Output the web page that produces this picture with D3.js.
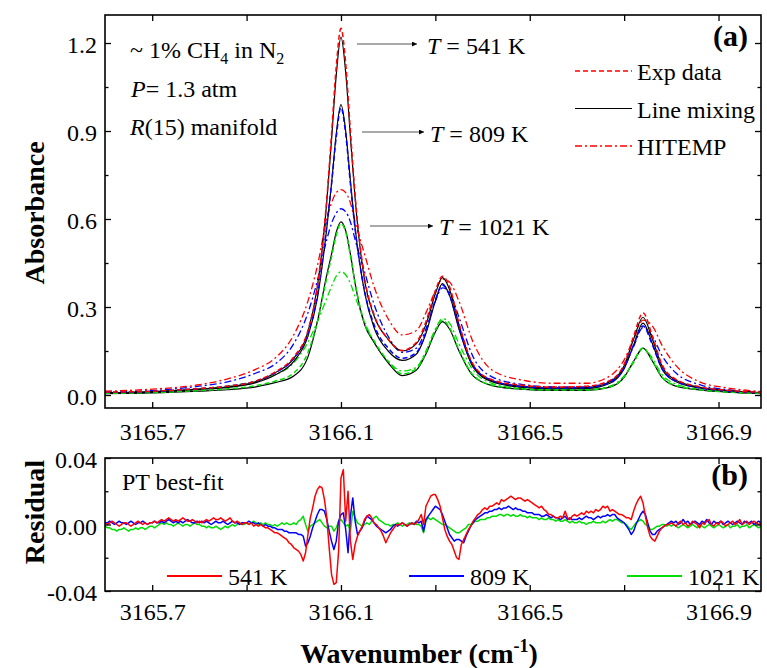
<!DOCTYPE html>
<html>
<head>
<meta charset="utf-8">
<script src="https://cdn.jsdelivr.net/npm/d3@7"></script>
<style>
  body { margin: 0; background: #fff; }
  text { font-family: "Liberation Serif", "Times New Roman", serif; fill: #000; }
</style>
</head>
<body>
<svg id="chart" width="767" height="668"></svg>
<script>
// ---- Absorbance spectra, R(15) manifold of CH4 (wavenumber in cm-1) ----
const wavenumber = [3165.60, 3165.70, 3165.80, 3165.86, 3165.92, 3165.96, 3166.00, 3166.03, 3166.05, 3166.07,
  3166.08, 3166.09, 3166.10, 3166.11, 3166.12, 3166.13, 3166.15, 3166.17, 3166.20, 3166.23,
  3166.26, 3166.28, 3166.30, 3166.315, 3166.33, 3166.35, 3166.38, 3166.42, 3166.48, 3166.55,
  3166.62, 3166.67, 3166.70, 3166.72, 3166.74, 3166.76, 3166.78, 3166.81, 3166.86, 3166.92, 3166.99];

const exp541 = [0.010, 0.013, 0.022, 0.030, 0.048, 0.078, 0.13, 0.22, 0.37, 0.67, 0.89, 1.12, 1.25, 1.13, 0.90, 0.68, 0.40, 0.275, 0.19, 0.152,
  0.18, 0.25, 0.355, 0.405, 0.37, 0.245, 0.105, 0.052, 0.034, 0.027, 0.03, 0.05, 0.105, 0.2, 0.28, 0.2, 0.105, 0.053, 0.028, 0.016, 0.009];
const lm541 = [0.008, 0.012, 0.020, 0.028, 0.045, 0.075, 0.125, 0.215, 0.37, 0.66, 0.87, 1.09, 1.22, 1.10, 0.88, 0.67, 0.39, 0.27, 0.19, 0.15,
  0.175, 0.24, 0.345, 0.40, 0.36, 0.24, 0.10, 0.048, 0.030, 0.024, 0.025, 0.045, 0.10, 0.19, 0.265, 0.19, 0.10, 0.05, 0.026, 0.015, 0.008];
const hit541 = [0.013, 0.02, 0.035, 0.055, 0.088, 0.125, 0.205, 0.32, 0.44, 0.60, 0.655, 0.69, 0.70, 0.69, 0.655, 0.59, 0.48, 0.37, 0.26, 0.205,
  0.22, 0.28, 0.355, 0.395, 0.385, 0.32, 0.18, 0.085, 0.052, 0.04, 0.04, 0.065, 0.12, 0.19, 0.255, 0.235, 0.17, 0.10, 0.045, 0.024, 0.012];

const exp809 = [0.009, 0.012, 0.022, 0.03, 0.048, 0.075, 0.125, 0.21, 0.34, 0.58, 0.72, 0.88, 0.98, 0.89, 0.72, 0.565, 0.355, 0.24, 0.16, 0.125,
  0.145, 0.215, 0.325, 0.375, 0.34, 0.23, 0.10, 0.05, 0.03, 0.024, 0.025, 0.043, 0.092, 0.17, 0.235, 0.17, 0.09, 0.047, 0.025, 0.014, 0.008];
const lm809 = [0.007, 0.010, 0.019, 0.026, 0.042, 0.068, 0.115, 0.20, 0.33, 0.57, 0.72, 0.89, 0.99, 0.90, 0.73, 0.57, 0.35, 0.23, 0.15, 0.118,
  0.14, 0.21, 0.32, 0.38, 0.34, 0.225, 0.095, 0.045, 0.027, 0.021, 0.022, 0.04, 0.09, 0.17, 0.245, 0.175, 0.09, 0.045, 0.024, 0.013, 0.007];
const hit809 = [0.010, 0.015, 0.03, 0.045, 0.075, 0.105, 0.175, 0.28, 0.39, 0.53, 0.585, 0.62, 0.635, 0.625, 0.59, 0.53, 0.42, 0.31, 0.20, 0.145,
  0.16, 0.225, 0.32, 0.365, 0.35, 0.265, 0.13, 0.062, 0.037, 0.028, 0.028, 0.048, 0.095, 0.165, 0.23, 0.2, 0.135, 0.075, 0.035, 0.018, 0.009];

const exp1021 = [0.006, 0.008, 0.015, 0.021, 0.032, 0.047, 0.075, 0.145, 0.25, 0.40, 0.47, 0.545, 0.585, 0.555, 0.475, 0.38, 0.245, 0.185, 0.115, 0.072,
  0.09, 0.145, 0.22, 0.255, 0.23, 0.155, 0.068, 0.034, 0.021, 0.017, 0.017, 0.028, 0.062, 0.115, 0.16, 0.117, 0.062, 0.032, 0.018, 0.01, 0.006];
const lm1021 = [0.005, 0.007, 0.013, 0.018, 0.028, 0.042, 0.065, 0.13, 0.25, 0.41, 0.48, 0.555, 0.59, 0.56, 0.48, 0.38, 0.24, 0.18, 0.11, 0.066,
  0.085, 0.14, 0.215, 0.25, 0.225, 0.15, 0.065, 0.032, 0.02, 0.016, 0.016, 0.027, 0.06, 0.115, 0.16, 0.115, 0.06, 0.03, 0.017, 0.01, 0.005];
const hit1021 = [0.006, 0.009, 0.02, 0.03, 0.047, 0.068, 0.11, 0.18, 0.25, 0.33, 0.37, 0.405, 0.42, 0.41, 0.38, 0.335, 0.25, 0.18, 0.115, 0.082,
  0.095, 0.15, 0.225, 0.26, 0.245, 0.175, 0.085, 0.04, 0.023, 0.018, 0.018, 0.03, 0.065, 0.11, 0.158, 0.125, 0.07, 0.037, 0.019, 0.01, 0.006];

// ---- Fit residuals, uniformly sampled from resStart with resStep, values in units of 1e-3 ----
const resStart = 3165.600, resStep = 0.005, resUnit = 0.001;
const res541 = [
  1,0,1,2,1,0,-1,0,1,1, 0,-1,0,1,2,1,0,1,0,1, 1,2,1,2,3,2,3,4,3,2, 3,2,3,4,3,2,2,3,2,1,
  2,1,2,3,2,3,4,3,3,4, 3,2,3,4,2,1,2,1,0,1, 1,0,1,-1,0,-1,0,-1,-2,-2, -3,-4,-5,-5,-6,-7,-8,-9,-11,-12,
  -14,-15,-16,-18,-22,-17,-6,4,10,17, 21,23,22,15,4,-14,-30,-36,-35,-16, 28,33,2,20,-10,-21,-12,-7,-4,-1,
  3,5,6,4,1,0,-2,-4,-7,-11, -8,-5,-3,-1,0,0,1,0,-1,0, 1,0,1,3,6,0,11,14,17,18,
  18,15,11,4,-3,-7,-10,-12,-16,-20, -21,-12,-9,-6,-3,-1,2,4,6,7, 9,10,9,11,11,12,13,12,15,14,
  15,16,17,16,15,16,16,15,14,15, 14,13,12,11,10,11,9,8,6,6, 5,4,4,5,4,8,4,3,5,6,
  5,6,7,6,8,7,8,7,9,8, 9,11,10,11,8,9,8,7,6,6, 5,4,4,3,8,12,15,17,13,5,
  -2,-7,-9,-10,-7,-4,-2,-1,0,0, 1,0,-1,1,2,0,1,-1,0,2, 1,0,-2,1,0,2,3,0,-1,1,
  0,2,1,-1,0,1,2,0,1,3, 0,1,2,0,1,2,1,0,1];
const res809 = [
  1,1,2,1,0,1,2,1,1,0, 1,2,1,0,1,1,2,1,0,1, 1,2,1,1,2,1,2,3,2,1, 2,1,2,1,2,3,2,1,1,2,
  1,2,1,2,1,0,1,2,1,1, 2,1,0,1,2,1,1,0,1,1, 1,2,1,1,0,1,0,-1,0,-1, -1,-2,-2,-3,-3,-3,-4,-4,-5,-5,
  -5,-5,-6,-6,-7,-13,-11,-7,-2,2, 6,9,9,8,3,-4,-10,-15,-10,2, 6,7,-3,-17,5,16,2,-6,-4,-2,
  2,5,4,3,1,-1,-2,-3,-4,-5, -4,-3,-1,0,-1,0,1,0,-1,0, 1,0,2,1,2,-4,3,5,7,9,
  11,10,9,6,2,-2,-6,-8,-10,-9, -9,-10,-11,-7,-4,-1,1,3,4,5, 6,7,7,8,8,9,9,10,9,10,
  10,11,10,9,10,9,9,8,8,7, 7,7,6,6,6,5,5,6,5,4, 5,4,4,3,4,5,3,4,3,3,
  3,4,3,4,5,4,4,3,4,5, 4,5,5,6,5,6,6,4,3,2, 1,-1,-3,-6,-4,0,3,6,8,6,
  1,-4,-6,-6,-4,-3,-2,-1,0,1, 2,1,2,0,1,3,1,2,0,1, 2,1,0,2,1,3,1,0,2,1,
  1,2,0,1,2,1,0,1,2,1, 0,2,1,1,2,0,1,2,1];
const res1021 = [
  -1,-2,-2,-3,-3,-4,-3,-3,-2,-3, -4,-3,-3,-2,-3,-2,-2,-3,-2,-1, -1,-2,-1,0,1,0,1,0,0,-1, 0,1,0,-1,0,0,-1,0,1,0,
  0,-1,-1,-2,-1,-2,-2,-1,-2,-3, -2,-1,-2,-1,0,-1,0,1,0,0, 1,0,1,2,1,0,1,0,1,0, 0,-1,0,-1,0,1,0,1,0,0,
  1,0,2,3,5,0,-4,-1,0,1, 2,3,1,-1,-2,-1,-1,-4,-2,2, 3,1,-1,0,-4,8,4,1,0,-1,
  0,1,0,2,4,5,3,2,1,0, 0,-1,0,0,1,0,-1,0,0,1, 0,1,0,0,-1,-5,2,4,3,4,
  3,2,1,0,0,-1,-2,-3,-4,-5, -5,-4,-3,-2,0,0,1,2,2,3, 3,3,4,4,5,5,5,6,6,5,
  6,6,5,6,5,5,6,5,5,4, 5,4,4,4,3,4,3,3,4,3, 3,2,3,2,2,3,2,1,2,1,
  1,2,1,1,0,1,1,2,1,1, 1,2,1,2,3,2,3,3,2,1, 1,0,-2,-3,-1,1,2,3,2,0,
  -1,-3,-3,-2,-1,-1,0,0,-1,0, -1,0,-1,-2,-1,0,-1,-2,-1,0, -1,-2,0,-1,-2,-1,0,-1,-2,-1,
  0,-1,-2,-1,0,-2,-1,-1,0,-2, -1,-1,0,-2,-1,0,-1,-2,-1];

// ---- Axis ticks and labels ----
const xTicks = [3165.7, 3165.9, 3166.1, 3166.3, 3166.5, 3166.7, 3166.9];
const xTickLabels = ["3165.7", "3166.1", "3166.5", "3166.9"];
const absTicks = [0, 0.3, 0.6, 0.9, 1.2];
const absMinorTicks = [0.15, 0.45, 0.75, 1.05];
const resTicks = [-0.04, 0, 0.04];
const resMinorTicks = [-0.02, 0.02];

const temperatures = ["541 K", "809 K", "1021 K"];
const tempColors = ["#ff0000", "#0000ff", "#00dd00"];

// ---- Layout ----
const svg = d3.select("#chart");
const L = 105, R = 761;
const topP = { top: 15, bottom: 408 };
const botP = { top: 458, bottom: 591 };

const x = d3.scaleLinear().domain([3165.60, 3166.99]).range([L, R]);
const yA = d3.scaleLinear().domain([-0.0443, 1.2955]).range([topP.bottom, topP.top]);
const yR = d3.scaleLinear().domain([-0.04, 0.04]).range([botP.bottom, botP.top]);

const defs = svg.append("defs");
defs.append("clipPath").attr("id", "clipTop").append("rect")
  .attr("x", L).attr("y", topP.top).attr("width", R - L).attr("height", topP.bottom - topP.top);
defs.append("clipPath").attr("id", "clipBot").append("rect")
  .attr("x", L).attr("y", botP.top).attr("width", R - L).attr("height", botP.bottom - botP.top);
defs.append("marker").attr("id", "arrowHead")
  .attr("viewBox", "0 0 10 10").attr("refX", 10).attr("refY", 5)
  .attr("markerWidth", 9).attr("markerHeight", 5).attr("markerUnits", "userSpaceOnUse")
  .attr("orient", "auto")
  .append("path").attr("d", "M0,0 L10,5 L0,10 Z").attr("fill", "#000");

const isLabeled = d => xTickLabels.some(s => Math.abs(+s - d) < 1e-6);

function styleAxis(g) {
  g.select(".domain").remove();
  g.selectAll(".tick line").attr("stroke", "#000").attr("stroke-width", 1.3);
  g.selectAll(".tick text").style("font-size", "24px").attr("fill", "#000");
}

function drawAxes(panel, yScale, major, minor, fmt, xPad) {
  // x: bottom (labelled) and top
  svg.append("g").attr("transform", `translate(0,${panel.bottom})`)
    .call(d3.axisBottom(x).tickValues(xTicks).tickSize(-6).tickPadding(xPad)
      .tickFormat(d => isLabeled(d) ? d.toFixed(1) : ""))
    .call(styleAxis);
  svg.append("g").attr("transform", `translate(0,${panel.top})`)
    .call(d3.axisTop(x).tickValues(xTicks).tickSize(-6).tickFormat(""))
    .call(styleAxis);
  // y: left (labelled) and right
  svg.append("g").attr("transform", `translate(${L},0)`)
    .call(d3.axisLeft(yScale).tickValues(major).tickSize(-6).tickPadding(8).tickFormat(fmt))
    .call(styleAxis)
    .call(g => g.selectAll(".tick text").attr("dy", "0.4em"));
  svg.append("g").attr("transform", `translate(${L},0)`)
    .call(d3.axisLeft(yScale).tickValues(minor).tickSize(-3.5).tickFormat(""))
    .call(styleAxis);
  svg.append("g").attr("transform", `translate(${R},0)`)
    .call(d3.axisRight(yScale).tickValues(major).tickSize(-6).tickFormat(""))
    .call(styleAxis);
  svg.append("g").attr("transform", `translate(${R},0)`)
    .call(d3.axisRight(yScale).tickValues(minor).tickSize(-3.5).tickFormat(""))
    .call(styleAxis);
  svg.append("rect").attr("x", L).attr("y", panel.top)
    .attr("width", R - L).attr("height", panel.bottom - panel.top)
    .attr("fill", "none").attr("stroke", "#000").attr("stroke-width", 1.6);
}

// ---- Panel (a): absorbance ----
const specLine = d3.line()
  .x((d, i) => x(wavenumber[i]))
  .y(d => yA(d))
  .curve(d3.curveMonotoneX);

const gTop = svg.append("g").attr("clip-path", "url(#clipTop)");
const DASH = "5,3", DASHDOT = "7,3,2,3";
const spectra = [
  { v: hit1021, c: tempColors[2], dash: DASHDOT, w: 1.3 },
  { v: hit809, c: tempColors[1], dash: DASHDOT, w: 1.3 },
  { v: hit541, c: tempColors[0], dash: DASHDOT, w: 1.3 },
  { v: lm1021, c: "#000", dash: null, w: 1.2 },
  { v: lm809, c: "#000", dash: null, w: 1.2 },
  { v: lm541, c: "#000", dash: null, w: 1.2 },
  { v: exp1021, c: tempColors[2], dash: DASH, w: 1.5 },
  { v: exp809, c: tempColors[1], dash: DASH, w: 1.5 },
  { v: exp541, c: tempColors[0], dash: DASH, w: 1.5 }
];
spectra.forEach(s => {
  gTop.append("path").attr("d", specLine(s.v))
    .attr("fill", "none").attr("stroke", s.c).attr("stroke-width", s.w)
    .attr("stroke-dasharray", s.dash);
});

drawAxes(topP, yA, absTicks, absMinorTicks, d => d.toFixed(1), 15);

// conditions
const cond = svg.append("g").style("font-size", "24px");
const t1 = cond.append("text").attr("x", 130).attr("y", 58);
t1.append("tspan").text("~ 1% CH");
t1.append("tspan").attr("dy", 6).style("font-size", "16px").text("4");
t1.append("tspan").attr("dy", -6).text(" in N");
t1.append("tspan").attr("dy", 6).style("font-size", "16px").text("2");
const t2 = cond.append("text").attr("x", 131).attr("y", 97);
t2.append("tspan").style("font-style", "italic").text("P");
t2.append("tspan").text("= 1.3 atm");
const t3 = cond.append("text").attr("x", 130).attr("y", 135);
t3.append("tspan").style("font-style", "italic").text("R");
t3.append("tspan").text("(15) manifold");

// temperature pointers
const pointers = [
  { x0: 357, x1: 417, y: 44, tx: 427, ty: 54, label: "541 K" },
  { x0: 362, x1: 424, y: 132, tx: 430, ty: 142, label: "809 K" },
  { x0: 370, x1: 433, y: 226, tx: 439, ty: 235, label: "1021 K" }
];
pointers.forEach(p => {
  svg.append("line").attr("x1", p.x0).attr("x2", p.x1).attr("y1", p.y).attr("y2", p.y)
    .attr("stroke", "#555").attr("stroke-width", 1.2).attr("marker-end", "url(#arrowHead)");
  const t = svg.append("text").attr("x", p.tx).attr("y", p.ty).style("font-size", "24px");
  t.append("tspan").style("font-style", "italic").text("T");
  t.append("tspan").text(" = " + p.label);
});

// legend
const legendItems = [
  { label: "Exp data", c: "#ff0000", dash: DASH, w: 1.5 },
  { label: "Line mixing", c: "#000", dash: null, w: 1.2 },
  { label: "HITEMP", c: "#ff0000", dash: DASHDOT, w: 1.3 }
];
legendItems.forEach((d, i) => {
  const y = 71 + i * 37.5;
  svg.append("line").attr("x1", 575).attr("x2", 632).attr("y1", y).attr("y2", y)
    .attr("stroke", d.c).attr("stroke-width", d.w).attr("stroke-dasharray", d.dash);
  svg.append("text").attr("x", 637).attr("y", y + 9).style("font-size", "24px").text(d.label);
});

svg.append("text").attr("x", 748).attr("y", 46).attr("text-anchor", "end")
  .style("font-size", "30px").style("font-weight", "bold").text("(a)");

// ---- Panel (b): residuals ----
const resLine = d3.line()
  .x((d, i) => x(resStart + i * resStep))
  .y(d => yR(d * resUnit));
const gBot = svg.append("g").attr("clip-path", "url(#clipBot)");
[res1021, res809, res541].forEach((r, k) => {
  gBot.append("path").attr("d", resLine(r))
    .attr("fill", "none").attr("stroke", tempColors[2 - k]).attr("stroke-width", 1.5)
    .attr("stroke-linejoin", "round");
});

drawAxes(botP, yR, resTicks, resMinorTicks, d => d.toFixed(2), 12);

svg.append("text").attr("x", 122).attr("y", 490).style("font-size", "24px").text("PT best-fit");
svg.append("text").attr("x", 748).attr("y", 485).attr("text-anchor", "end")
  .style("font-size", "30px").style("font-weight", "bold").text("(b)");

const resLegendX = [167, 409, 627];
temperatures.forEach((t, i) => {
  const x0 = resLegendX[i];
  svg.append("line").attr("x1", x0).attr("x2", x0 + 55).attr("y1", 576).attr("y2", 576)
    .attr("stroke", tempColors[i]).attr("stroke-width", 2);
  svg.append("text").attr("x", x0 + 61).attr("y", 585).style("font-size", "24px").text(t);
});

// ---- Axis titles ----
svg.append("text").attr("transform", "translate(44,213) rotate(-90)")
  .attr("text-anchor", "middle").style("font-size", "28px").style("font-weight", "bold")
  .text("Absorbance");
svg.append("text").attr("transform", "translate(44,512) rotate(-90)")
  .attr("text-anchor", "middle").style("font-size", "28px").style("font-weight", "bold")
  .text("Residual");
const xt = svg.append("text").attr("x", 419).attr("y", 663).attr("text-anchor", "middle")
  .style("font-size", "28px").style("font-weight", "bold");
xt.append("tspan").text("Wavenumber (cm");
xt.append("tspan").attr("dy", -11).style("font-size", "18px").text("-1");
xt.append("tspan").attr("dy", 11).text(")");
</script>
</body>
</html>
